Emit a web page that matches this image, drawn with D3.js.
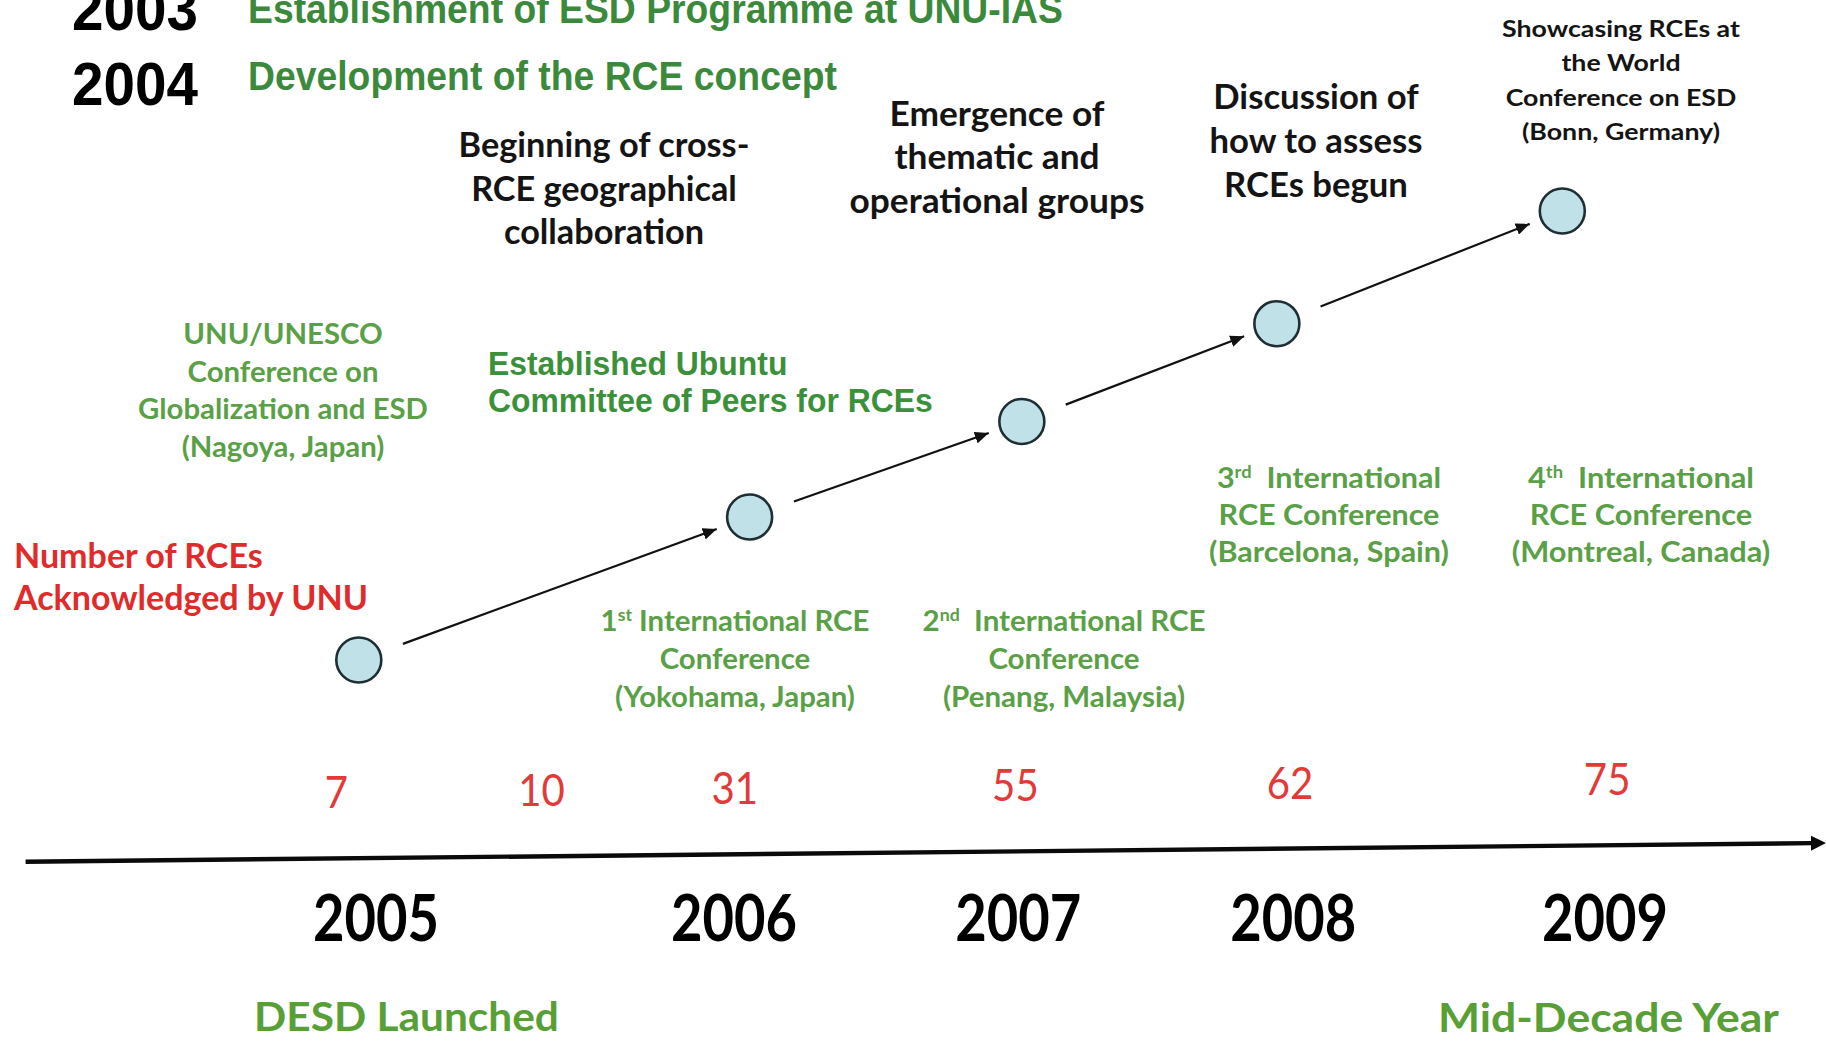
<!DOCTYPE html>
<html><head><meta charset="utf-8">
<script src="https://cdn.jsdelivr.net/npm/d3@7"></script>
<style>
html,body{margin:0;padding:0;background:#fff;overflow:hidden}
svg{display:block;background:#fff}
</style></head>
<body>
<svg id="chart" width="1826" height="1041"></svg>
<script>
// ================= DATA =================
const years        = ["2005", "2006", "2007", "2008", "2009"];
const yearAt       = [2005, 2006.165, 2007.09, 2007.985, 2009];      // where each year label sits on the timeline
const rceCounts    = [7, 10, 31, 55, 62, 75];                          // number of RCEs acknowledged by UNU
const countAt      = [2004.871, 2005.539, 2006.168, 2007.081, 2007.975, 2009.007];
const milestoneAt  = [2004.944, 2006.216, 2007.102, 2007.932, 2008.861];
const milestoneLevel = [0, 1.274, 2.125, 2.996, 4];                   // step of the rising milestone path
const earlyYears   = ["2003", "2004"];
const earlyEvents  = ["Establishment of ESD Programme at UNU-IAS", "Development of the RCE concept"];
const upperNotes = [
  ["Beginning of cross-", "RCE geographical", "collaboration"],
  ["Emergence of", "thematic and", "operational groups"],
  ["Discussion of", "how to assess", "RCEs begun"],
  ["Showcasing RCEs at", "the World", "Conference on ESD", "(Bonn, Germany)"]
];
const conferenceNotes = [
  ["UNU/UNESCO", "Conference on", "Globalization and ESD", "(Nagoya, Japan)"],
  ["1^st^ International RCE", "Conference", "(Yokohama, Japan)"],
  ["2^nd^  International RCE", "Conference", "(Penang, Malaysia)"],
  ["3^rd^  International", "RCE Conference", "(Barcelona, Spain)"],
  ["4^th^  International", "RCE Conference", "(Montreal, Canada)"]
];
const committeeNote = ["Established Ubuntu", "Committee of Peers for RCEs"];
const countTitle    = ["Number of RCEs", "Acknowledged by UNU"];
const decadeNotes   = ["DESD Launched", "Mid-Decade Year"];

// ================= LAYOUT =================
const W = 1826, H = 1041;
const svg = d3.select("#chart");
const x = d3.scaleLinear().domain([2005, 2009]).range([376, 1605]);
const yStage = d3.scaleLinear().domain([0, 4]).range([660, 211]);
const tlStart = 25.6, tlY0 = 861.7, tlSlope = -0.0104, tlEnd = 1826;
const tl = px => tlY0 + tlSlope * (px - tlStart);

const ARIAL = "'Liberation Sans', Arial, sans-serif";
const CAL = "Lato, 'Open Sans', sans-serif";
const C = {
  black: "#141414", greenDark: "#3b8a3b", greenMid: "#3a913a",
  greenLight: "#5aa046", greenDesd: "#58a035", red: "#e12a2a", redNum: "#e23a38",
  node: "#bfe1e7", nodeStroke: "#1f2e33"
};

// text block helper: lines share a horizontal squeeze fitted to one reference line
function block(lines, o) {
  const g = svg.append("g").attr("transform", `translate(${o.x},0)`);
  const inner = g.append("g");
  const texts = lines.map((line, i) => {
    const t = inner.append("text")
      .attr("x", 0).attr("y", o.y0 + i * (o.dy || 0))
      .attr("text-anchor", o.anchor || "middle")
      .attr("font-family", o.family).attr("font-size", o.size)
      .attr("font-weight", o.weight || "bold").attr("fill", o.fill);
    const segs = line.split("^");
    let shifted = false;
    segs.forEach((seg, k) => {
      if (seg === "") return;
      const sp = t.append("tspan").text(seg).attr("xml:space", "preserve");
      if (k % 2 === 1) {
        sp.attr("font-size", o.size * 0.6).attr("dy", -o.size * 0.36);
        shifted = true;
      } else if (shifted) {
        sp.attr("dy", o.size * 0.36);
        shifted = false;
      }
    });
    t.style("white-space", "pre");
    return t;
  });
  const ref = texts[o.ref || 0].node().getComputedTextLength();
  const sx = o.w / ref;
  inner.attr("transform", `scale(${sx},1)`);
  return texts;
}

// ---- header (the top row is cropped by the frame, as in the source slide) ----
block(earlyYears, {x: 72, y0: 30, dy: 75, anchor: "start", family: ARIAL, size: 61, fill: "#000", ref: 1, w: 126});
block(earlyEvents, {x: 248, y0: 23, dy: 67.5, anchor: "start", family: ARIAL, size: 40.5, fill: C.greenDark, ref: 1, w: 589});

// ---- upper (black) notes ----
const upperLayout = [
  {x: 604,  y0: 157,   dy: 43.7, size: 34, ref: 0, w: 291},
  {x: 997,  y0: 126,   dy: 43.5, size: 34, ref: 2, w: 295},
  {x: 1316, y0: 109.5, dy: 43.7, size: 34, ref: 1, w: 213},
  {x: 1621, y0: 37,    dy: 34.4, size: 23.5, ref: 0, w: 238}
];
upperNotes.forEach((lines, i) => block(lines, Object.assign({family: CAL, fill: C.black}, upperLayout[i])));

// ---- conference (green) notes ----
const confLayout = [
  {x: 283,  y0: 344,   dy: 37.7, ref: 2, w: 290},
  {x: 735,  y0: 631,   dy: 38,   ref: 0, w: 269},
  {x: 1064, y0: 631,   dy: 38,   ref: 0, w: 283},
  {x: 1329, y0: 488,   dy: 37,   ref: 2, w: 240},
  {x: 1641, y0: 488,   dy: 37,   ref: 2, w: 258.5}
];
conferenceNotes.forEach((lines, i) => block(lines, Object.assign({family: CAL, size: 29, fill: C.greenLight}, confLayout[i])));

block(committeeNote, {x: 488, y0: 375, dy: 37.3, anchor: "start", family: ARIAL, size: 32.5, fill: C.greenMid, ref: 1, w: 445});
block(countTitle, {x: 14, y0: 568, dy: 42, anchor: "start", family: CAL, size: 34, fill: C.red, ref: 1, w: 354});
block([decadeNotes[0]], {x: 254, y0: 1031, anchor: "start", family: CAL, size: 41, fill: C.greenDesd, w: 305});
block([decadeNotes[1]], {x: 1438, y0: 1032, anchor: "start", family: CAL, size: 41, fill: C.greenDesd, w: 341});

// ---- timeline ----
svg.append("defs").call(d => {
  d.append("marker").attr("id", "head").attr("viewBox", "0 0 14 12")
    .attr("refX", 14).attr("refY", 6).attr("markerWidth", 14).attr("markerHeight", 12)
    .attr("markerUnits", "userSpaceOnUse").attr("orient", "auto")
    .append("path").attr("d", "M0,0 L14,6 L0,12 Z").attr("fill", "#111");
});
svg.append("line")
  .attr("x1", tlStart).attr("y1", tl(tlStart))
  .attr("x2", tlEnd - 14).attr("y2", tl(tlEnd - 14))
  .attr("stroke", "#0a0a0a").attr("stroke-width", 4.4);
svg.append("path")
  .attr("d", `M${tlEnd},${tl(tlEnd)} L${tlEnd - 15},${tl(tlEnd - 15) - 7.5} L${tlEnd - 15},${tl(tlEnd - 15) + 7.5} Z`)
  .attr("fill", "#0a0a0a");

// year labels
const yearG = svg.append("g");
const yearTexts = yearG.selectAll("g").data(years).join("g")
  .attr("transform", (d, i) => `translate(${x(yearAt[i])},941)`);
yearTexts.append("text").attr("text-anchor", "middle")
  .attr("font-family", CAL).attr("font-weight", "bold").attr("font-size", 65).attr("fill", "#000")
  .text(d => d);
{
  const ref = yearTexts.select("text").node().getComputedTextLength();
  yearTexts.select("text").attr("transform", `scale(${126 / ref},1)`);
}

// RCE counts
const countG = svg.append("g").selectAll("g").data(rceCounts).join("g")
  .attr("transform", (d, i) => `translate(${x(countAt[i])},${tl(x(countAt[i])) - 50})`);
countG.append("text").attr("text-anchor", "middle")
  .attr("font-family", CAL).attr("font-weight", "normal").attr("font-size", 45).attr("fill", C.redNum)
  .text(d => d);
{
  const n = countG.filter(d => d === 55).select("text").node().getComputedTextLength();
  countG.select("text").attr("transform", `scale(${46.6 / n},1)`);
}

// ---- milestone path ----
const nodes = milestoneAt.map((t, i) => ({cx: x(t), cy: yStage(milestoneLevel[i])}));
const links = d3.pairs(nodes).map(([a, b]) => {
  const dx = b.cx - a.cx, dy = b.cy - a.cy, L = Math.hypot(dx, dy);
  const ux = dx / L, uy = dy / L;
  return {x1: a.cx + ux * 47, y1: a.cy + uy * 47, x2: b.cx - ux * 35, y2: b.cy - uy * 35};
});
svg.append("g").selectAll("line").data(links).join("line")
  .attr("x1", d => d.x1).attr("y1", d => d.y1).attr("x2", d => d.x2).attr("y2", d => d.y2)
  .attr("stroke", "#111").attr("stroke-width", 2.2).attr("marker-end", "url(#head)");
svg.append("g").selectAll("circle").data(nodes).join("circle")
  .attr("cx", d => d.cx).attr("cy", d => d.cy).attr("r", 22.5)
  .attr("fill", C.node).attr("stroke", C.nodeStroke).attr("stroke-width", 2.6);
</script>
</body></html>
